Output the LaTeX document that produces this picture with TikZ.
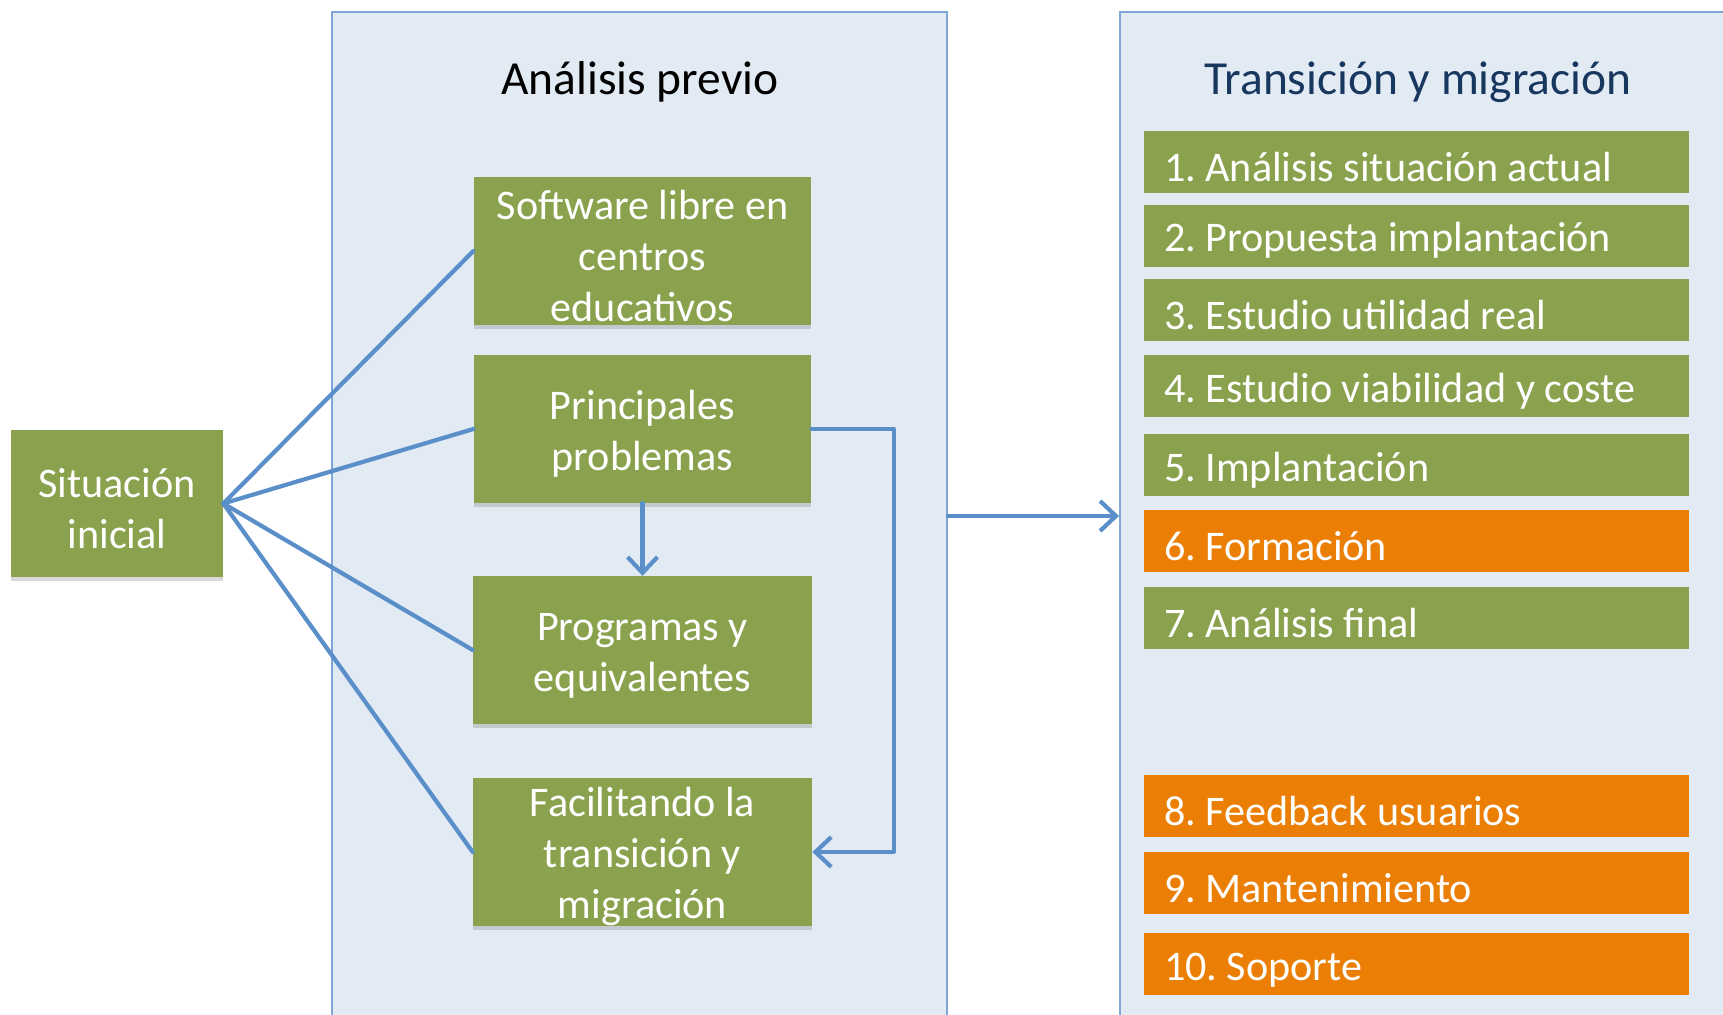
\documentclass[tikz,border=0pt]{standalone}
\usepackage{fontspec}
\setmainfont{Carlito}
\usepackage{tikz}
\usetikzlibrary{arrows.meta,shadows}
\frenchspacing
\definecolor{boxgreen}{RGB}{138,162,77}
\definecolor{boxorange}{RGB}{235,127,5}
\definecolor{panelfill}{RGB}{226,234,244}
\definecolor{paneldraw}{RGB}{126,166,214}
\definecolor{linkblue}{RGB}{91,143,201}
\definecolor{titlenavy}{RGB}{23,55,94}
\tikzset{
    every node/.style={align=center,},
    panel/.style={draw=paneldraw,fill=panelfill,line width=1.1pt,},
    paneltitle/.style={font=\fontsize{27}{32}\selectfont,},
    box/.style={fill=boxgreen,text=white,inner sep=0pt,
        minimum width=6.75cm,minimum height=2.95cm,
        text width=6.5cm,align=flush center,
        font=\fontsize{24}{29}\selectfont,
        execute at begin node={\rule{0pt}{22pt}},
        drop shadow={shadow xshift=0pt,shadow yshift=-2.5pt,opacity=0.3},},
    stage/.style={text=white,inner ysep=0pt,inner xsep=0.4cm,
        text width=10.1cm,minimum height=1.24cm,align=flush left,
        font=\fontsize{24}{29}\selectfont,
        execute at begin node={\rule{0pt}{22pt}},},
    link/.style={draw=linkblue,line width=2.4pt,line cap=round,line join=round,},
    tip/.style={-{Straight Barb[length=9pt,width=17pt]}},
}

\begin{document}
\begin{tikzpicture}
    \useasboundingbox (0, 0) rectangle (34.46, 20.3);
    \clip (0, 0) rectangle (34.46, 20.3);

    % the two panels
    \node[panel,minimum width=12.3cm,minimum height=20.16cm] (previo) at (12.79, 9.98) {};
    \node[panel,minimum width=12.6cm,minimum height=20.16cm] (migra) at (28.7, 9.98) {};
    \node[paneltitle] (previo_title) at (12.8, 18.66) {Análisis previo};
    \node[paneltitle,text=titlenavy] (migra_title) at (28.36, 18.66) {Transición y migración};

    % starting point
    \node[box,text width=4cm,minimum width=4.24cm,minimum height=2.94cm] (situacion) at (2.34, 10.23) {Situación\\inicial};

    \node[box] (software) at (12.85, 15.28) {Software libre en\\centros\\educativos};
    \node[box] (problemas) at (12.85, 11.72) {Principales\\problemas};
    \node[box,minimum width=6.78cm] (programas) at (12.85, 7.3) {Programas y\\equivalentes};
    \node[box,minimum width=6.78cm] (facilitando) at (12.85, 3.26) {Facilitando la\\transición y\\migración};

    % steps of the migration
    \foreach \y/\col/\txt [count=\i] in {
        17.06/boxgreen/{1. Análisis situación actual},
        15.58/boxgreen/{2. Propuesta implantación},
        14.10/boxgreen/{3. Estudio utilidad real},
        12.57/boxgreen/{4. Estudio viabilidad y coste},
        10.99/boxgreen/{5. Implantación},
        9.47/boxorange/{6. Formación},
        7.94/boxgreen/{7. Análisis final},
        4.18/boxorange/{8. Feedback usuarios},
        2.64/boxorange/{9. Mantenimiento},
        1.01/boxorange/{10. Soporte}}
        \node[stage,fill=\col] (stage\i) at (28.33, \y) {\txt};

    \draw[link] (situacion.east) to (software.west);
    \draw[link] (situacion.east) to (problemas.west);
    \draw[link] (situacion.east) to (programas.west);
    \draw[link] (situacion.east) to (facilitando.west);

    \draw[link,tip] (problemas.south) to (programas.north);
    \draw[link,tip] (problemas.east) -- ++(1.64, 0) |- (facilitando.east);

    \draw[link,tip] (previo.east) to (migra.west);
\end{tikzpicture}
\end{document}
